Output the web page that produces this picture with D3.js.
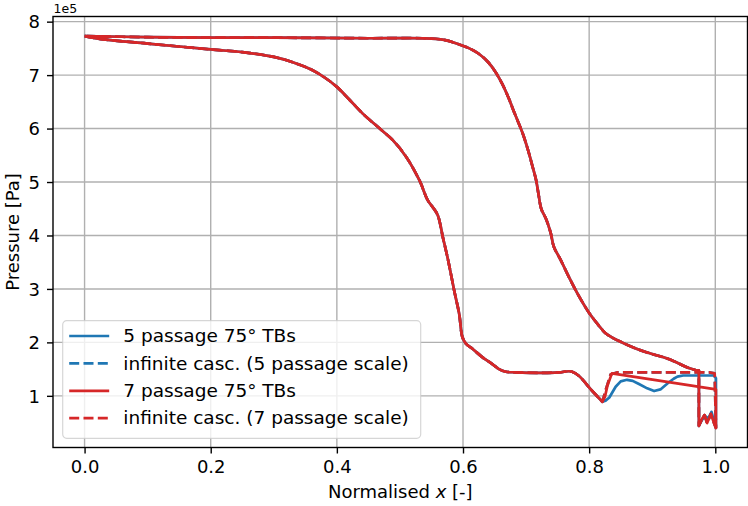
<!DOCTYPE html>
<html>
<head>
<meta charset="utf-8">
<script src="https://cdn.jsdelivr.net/npm/d3@7"></script>
<style>
  html, body { margin: 0; padding: 0; background: #fff; }
  svg { display: block; font-family: "DejaVu Sans", sans-serif; }
</style>
</head>
<body>
<svg id="chart" width="748" height="506"></svg>
<script>
// Blade surface static pressure, in units of 1e5 Pa, against normalised axial position.
// Suction side, leading edge -> minimum near the trailing edge.
const suctionX = [0.000, 0.030, 0.100, 0.200, 0.250, 0.300, 0.330, 0.360, 0.380, 0.400, 0.420,
  0.441, 0.468, 0.489, 0.510, 0.531, 0.544, 0.552, 0.560, 0.568, 0.576, 0.586, 0.594, 0.599,
  0.605, 0.615, 0.631, 0.647, 0.657, 0.668, 0.684, 0.721, 0.752, 0.768, 0.773, 0.784, 0.805, 0.821];
const suctionP = [7.73, 7.67, 7.59, 7.48, 7.43, 7.34, 7.24, 7.10, 6.96, 6.78, 6.54,
  6.28, 6.00, 5.78, 5.47, 5.03, 4.66, 4.53, 4.38, 3.97, 3.56, 2.97, 2.53, 2.10,
  1.97, 1.88, 1.72, 1.59, 1.50, 1.45, 1.44, 1.43, 1.44, 1.46, 1.45, 1.37, 1.09, 0.89];

// Pressure side, leading edge -> trailing edge.
const pressureX = [0.000, 0.100, 0.200, 0.300, 0.450, 0.536, 0.570, 0.590, 0.610, 0.625, 0.640,
  0.652, 0.662, 0.672, 0.682, 0.694, 0.703, 0.710, 0.716, 0.720, 0.724, 0.732, 0.739, 0.744,
  0.755, 0.768, 0.784, 0.800, 0.815, 0.826, 0.838, 0.852, 0.875, 0.895, 0.926, 0.958, 0.972];
const pressureP = [7.73, 7.71, 7.70, 7.70, 7.69, 7.69, 7.66, 7.59, 7.50, 7.40, 7.24,
  7.05, 6.84, 6.58, 6.28, 5.93, 5.60, 5.30, 5.03, 4.75, 4.50, 4.30, 4.05, 3.79,
  3.54, 3.22, 2.86, 2.55, 2.32, 2.17, 2.08, 2.00, 1.88, 1.80, 1.69, 1.52, 1.47];

// Trailing-edge region of each case, from the suction-side minimum round to the pressure side.
const tb5TeX = [0.826, 0.832, 0.842, 0.850, 0.860, 0.869, 0.879, 0.892, 0.903, 0.913, 0.926, 0.934,
  0.940, 0.949, 0.958, 0.998, 1.001, 1.001, 0.998, 0.994, 0.989, 0.984, 0.979, 0.974, 0.974];
const tb5TeP = [0.91, 0.97, 1.17, 1.27, 1.30, 1.28, 1.22, 1.14, 1.09, 1.12, 1.25, 1.32,
  1.36, 1.38, 1.38, 1.38, 1.33, 0.41, 0.52, 0.70, 0.58, 0.62, 0.55, 0.44, 1.47];

const tb7TeX = [0.825, 0.829, 0.836, 1.001, 1.001, 0.998, 0.993, 0.987, 0.983, 0.979, 0.974, 0.974];
const tb7TeP = [0.98, 1.19, 1.42, 1.12, 0.40, 0.49, 0.66, 0.49, 0.64, 0.57, 0.44, 1.47];

const infTeX = [0.826, 0.834, 0.845, 0.900, 0.990, 0.999, 1.001, 0.998, 0.993, 0.987, 0.983, 0.979, 0.974, 0.974];
const infTeP = [1.10, 1.40, 1.44, 1.44, 1.44, 1.42, 0.40, 0.49, 0.66, 0.49, 0.64, 0.57, 0.44, 1.47];

const seriesNames = ["5 passage 75° TBs", "infinite casc. (5 passage scale)",
  "7 passage 75° TBs", "infinite casc. (7 passage scale)"];
const seriesColors = ["#1f77b4", "#1f77b4", "#d62728", "#d62728"];
const seriesDashed = [false, true, false, true];

const xTicks = [0.0, 0.2, 0.4, 0.6, 0.8, 1.0];
const yTicks = [1, 2, 3, 4, 5, 6, 7, 8];

const zip = (xs, ps) => xs.map((x, i) => [x, ps[i]]);
const suctionPts = zip(suctionX, suctionP);
const pressurePts = zip(pressureX, pressureP).reverse();

// Each case is a closed surface loop: suction side, trailing edge, pressure side back to the leading edge.
function loop(teX, teP) {
  const te = zip(teX, teP);
  return {
    suction: suctionPts,
    te: [suctionPts[suctionPts.length - 1], ...te, pressurePts[0]],
    pressure: pressurePts
  };
}
const series = [loop(tb5TeX, tb5TeP), loop(infTeX, infTeP), loop(tb7TeX, tb7TeP), loop(infTeX, infTeP)];

const margin = { left: 53, top: 16.5, right: 0.5, bottom: 58.5 };
const W = 748, H = 506;
const pw = W - margin.left - margin.right, ph = H - margin.top - margin.bottom;

const allPts = series.flatMap(s => [...s.suction, ...s.te, ...s.pressure]);
const [xMin, xMax] = d3.extent(allPts, d => d[0]);
const [yMin, yMax] = d3.extent(allPts, d => d[1]);
const xPad = 0.05 * (xMax - xMin), yPad = 0.05 * (yMax - yMin);

const x = d3.scaleLinear().domain([xMin - xPad, xMax + xPad]).range([0, pw]);
const y = d3.scaleLinear().domain([yMin - yPad, yMax + yPad]).range([ph, 0]);

const svg = d3.select("#chart");
const g = svg.append("g").attr("transform", `translate(${margin.left},${margin.top})`);

// Grid
g.append("g").selectAll("line").data(xTicks).join("line")
  .attr("x1", d => x(d)).attr("x2", d => x(d)).attr("y1", 0).attr("y2", ph)
  .attr("stroke", "#b0b0b0").attr("stroke-width", 1.4);
g.append("g").selectAll("line").data(yTicks).join("line")
  .attr("y1", d => y(d)).attr("y2", d => y(d)).attr("x1", 0).attr("x2", pw)
  .attr("stroke", "#b0b0b0").attr("stroke-width", 1.4);

// Curves: smooth along the blade sides, straight segments through the trailing-edge region
const smooth = d3.line().curve(d3.curveCatmullRom.alpha(0.5)).x(d => x(d[0])).y(d => y(d[1]));
const straight = d3.line().x(d => x(d[0])).y(d => y(d[1]));
const clip = svg.append("clipPath").attr("id", "plotclip");
clip.append("rect").attr("width", pw).attr("height", ph);
const lines = g.append("g").attr("clip-path", "url(#plotclip)");
series.forEach((s, i) => {
  const d = smooth(s.suction) + straight(s.te).replace(/^M[^L]*/, "") + smooth(s.pressure).replace(/^M[^CL]*/, "");
  lines.append("path").attr("d", d)
    .attr("fill", "none").attr("stroke", seriesColors[i]).attr("stroke-width", 2.7)
    .attr("stroke-linejoin", "round")
    .attr("stroke-dasharray", seriesDashed[i] ? "10,4.3" : null);
});

// Axes
const xAxis = d3.axisBottom(x).tickValues(xTicks).tickFormat(d3.format(".1f")).tickSizeOuter(0).tickSize(6).tickPadding(6);
const yAxis = d3.axisLeft(y).tickValues(yTicks).tickFormat(d3.format("d")).tickSizeOuter(0).tickSize(6).tickPadding(7);
const gx = g.append("g").attr("transform", `translate(0,${ph})`).call(xAxis);
const gy = g.append("g").call(yAxis);
[gx, gy].forEach(a => {
  a.select(".domain").remove();
  a.selectAll(".tick line").attr("stroke", "#000").attr("stroke-width", 1.4);
  a.selectAll(".tick text").attr("fill", "#000").attr("font-size", 18)
    .attr("font-family", "DejaVu Sans, sans-serif");
});
gx.selectAll(".tick text").attr("dy", null).attr("y", 6 + 6).attr("dominant-baseline", "hanging");
gy.selectAll(".tick text").attr("dy", "0.35em");

// Frame
g.append("rect").attr("width", pw).attr("height", ph)
  .attr("fill", "none").attr("stroke", "#000").attr("stroke-width", 1.4);

// Labels
const xl = svg.append("text").attr("x", margin.left + pw / 2).attr("y", 497.5)
  .attr("text-anchor", "middle").attr("font-size", 18);
xl.append("tspan").text("Normalised ");
xl.append("tspan").attr("font-style", "italic").text("x");
xl.append("tspan").text(" [-]");

svg.append("text").attr("transform", `translate(18.5,${margin.top + ph / 2}) rotate(-90)`)
  .attr("text-anchor", "middle").attr("font-size", 18).text("Pressure [Pa]");

svg.append("text").attr("x", 53.5).attr("y", 12.5).attr("font-size", 12.5).text("1e5");

// Legend
const lg = svg.append("g").attr("transform", "translate(62.7,320.7)");
lg.append("rect").attr("width", 358).attr("height", 117.6).attr("rx", 4)
  .attr("fill", "#fff").attr("fill-opacity", 0.8)
  .attr("stroke", "#cccccc").attr("stroke-opacity", 0.8).attr("stroke-width", 1.2);
seriesNames.forEach((name, i) => {
  const cy = 15.3 + i * 27.4;
  lg.append("line").attr("x1", 6.5).attr("x2", 46.5).attr("y1", cy).attr("y2", cy)
    .attr("stroke", seriesColors[i]).attr("stroke-width", 2.7)
    .attr("stroke-dasharray", seriesDashed[i] ? "10,4.3" : null);
  lg.append("text").attr("x", 60.6).attr("y", cy + 6.2).attr("font-size", 18.5).text(name);
});
</script>
</body>
</html>
